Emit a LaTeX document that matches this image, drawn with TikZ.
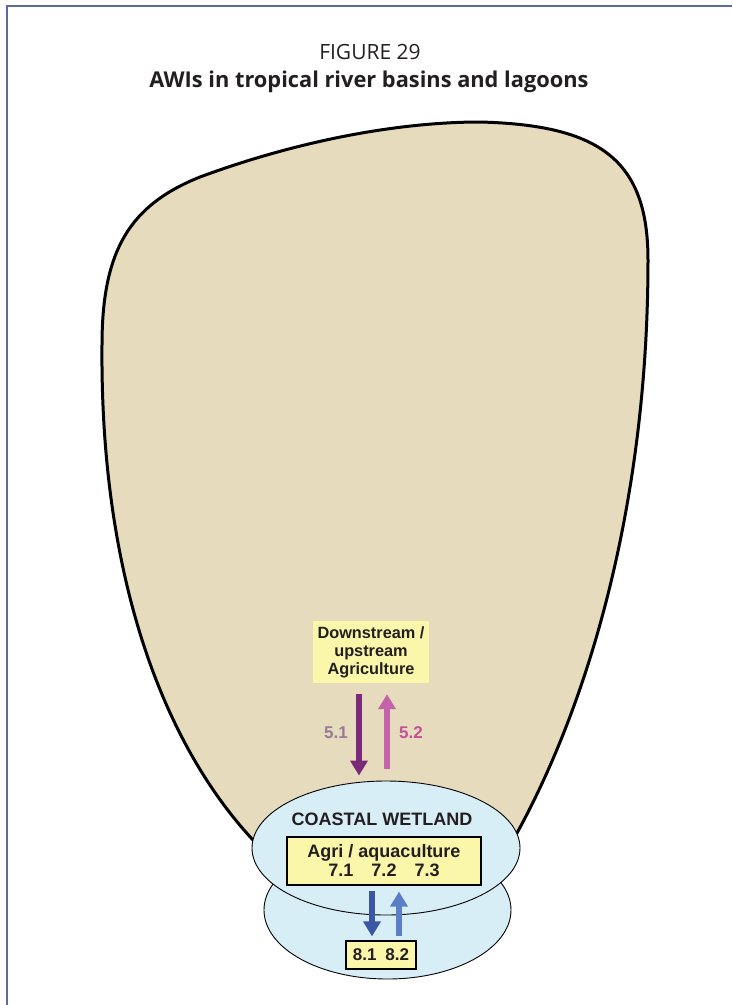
\documentclass[tikz,border=0pt]{standalone}
\usepackage{fontspec}
\setmainfont{Open Sans}
\newfontfamily\labelfont{Liberation Sans}
\usetikzlibrary{arrows.meta,positioning,shapes.geometric}

\definecolor{framecol}{HTML}{5B6A9F}
\definecolor{basintan}{HTML}{E6DBBD}
\definecolor{wetblue}{HTML}{D8EEF6}
\definecolor{boxyellow}{HTML}{FAF6AA}
\definecolor{textdark}{HTML}{231F20}
\definecolor{purpledown}{HTML}{7A2A78}
\definecolor{pinkup}{HTML}{C462AA}
\definecolor{mauvelbl}{HTML}{9A7A98}
\definecolor{pinklbl}{HTML}{C4509C}
\definecolor{bluedown}{HTML}{3C56A6}
\definecolor{blueup}{HTML}{5B7FC6}

\begin{document}
\begin{tikzpicture}[
  x=1pt, y=-1pt,
  box/.style={fill=boxyellow, font=\labelfont\bfseries\fontsize{16.3}{18}\selectfont,
    text=textdark, align=center, inner sep=2pt},
  pond/.style={draw, ellipse, fill=wetblue, line width=0.9pt, inner sep=0pt},
  flow/.style={line width=6pt, -{Triangle[width=17pt,length=15pt]}},
  numlbl/.style={font=\labelfont\bfseries\fontsize{17}{18}\selectfont}
]
\useasboundingbox (0,0) rectangle (732,1005);

% frame and title
\draw[framecol, line width=2.2pt] (7,1005) -- (7,6) -- (732,6);
\node[anchor=base, font=\fontsize{21}{24}\selectfont, text=textdark] (fig) at (370,59) {FIGURE 29};
\node[anchor=base, font=\bfseries\fontsize{21.8}{24}\selectfont, text=textdark] (title) at (369,87)
  {AWIs in tropical river basins and lagoons};

% river basin
\draw[line width=3pt, line join=round, fill=basintan]
  (253,840) .. controls (160,740) and (100,570) .. (102,345)
  .. controls (102,250) and (130,205) .. (200,177)
  .. controls (300,140) and (400,122) .. (480,122)
  .. controls (600,125) and (648,160) .. (648,260)
  .. controls (648,500) and (590,700) .. (517,833)
  -- (386,870) -- cycle;

% lagoon and coastal wetland
\node[pond, minimum width=247pt, minimum height=138pt] (lagoon) at (387.5,910) {};
\node[pond, minimum width=268pt, minimum height=134pt] (wet) at (386,848) {};
\node[font=\labelfont\bfseries\fontsize{18}{18}\selectfont, text=textdark] (wetlbl)
  at (382,819) {COASTAL WETLAND};

% boxes
\node[box, minimum width=116pt, minimum height=62pt] (down) at (371,652)
  {Downstream /\\upstream\\Agriculture};
\node[box, draw, line width=1.2pt, minimum width=194pt, minimum height=48pt,
  font=\labelfont\bfseries\fontsize{18}{19}\selectfont] (agri) at (384,861)
  {Agri / aquaculture\\7.1\quad 7.2\quad 7.3};
\node[box, draw, line width=1.2pt, minimum width=70pt, minimum height=28pt,
  font=\labelfont\bfseries\fontsize{17}{18}\selectfont] (nums)
  at (381,955) {8.1\hspace{9pt}8.2};

% flows between basin and wetland
\coordinate (pa) at ([xshift=-12pt,yshift=-11pt]down.south);
\coordinate (pb) at ([xshift=16pt,yshift=-11pt]down.south);
\draw[flow, purpledown, shorten >=5pt] (pa) -- (pa |- wet.north);
\draw[flow, pinkup, shorten <=12pt] (pb |- wet.north) -- (pb);
\node[numlbl, text=mauvelbl] (l51) at (336,733) {5.1};
\node[numlbl, text=pinklbl] (l52) at (411,733) {5.2};

% flows between wetland and lagoon
\coordinate (qa) at ([xshift=-12pt,yshift=-5pt]agri.south);
\coordinate (qb) at ([xshift=15pt,yshift=-6pt]agri.south);
\draw[flow, bluedown, shorten >=4pt] (qa) -- (qa |- nums.north);
\draw[flow, blueup, shorten <=4pt] (qb |- nums.north) -- (qb);
\end{tikzpicture}
\end{document}
